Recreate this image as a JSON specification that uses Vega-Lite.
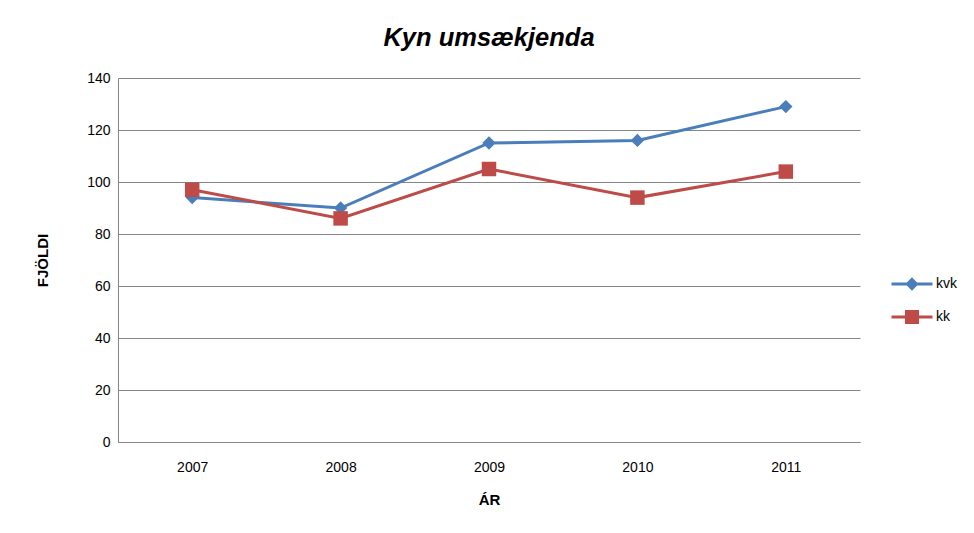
{
  "$schema": "https://vega.github.io/schema/vega-lite/v6.json",
  "width": 742,
  "height": 364,
  "autosize": {"type": "none"},
  "padding": {"left": 118, "top": 78, "right": 114, "bottom": 91},
  "background": "white",
  "title": {
    "text": "Kyn umsækjenda",
    "font": "Liberation Sans",
    "fontSize": 25.5,
    "fontWeight": "bold",
    "fontStyle": "italic",
    "color": "#000000",
    "anchor": "middle",
    "frame": "group",
    "offset": 20
  },
  "config": {
    "view": {"stroke": null},
    "font": "Liberation Sans",
    "axis": {
      "labelFont": "Liberation Sans",
      "labelFontSize": 14,
      "labelColor": "#000000",
      "titleFont": "Liberation Sans",
      "titleFontSize": 15,
      "titleFontWeight": "bold",
      "titleColor": "#000000",
      "domainColor": "#868686",
      "gridColor": "#868686",
      "ticks": false
    },
    "legend": {"labelFont": "Liberation Sans", "labelFontSize": 14, "labelColor": "#000000"}
  },
  "data": {
    "values": [
      {"year": "2007", "series": "kvk", "value": 94},
      {"year": "2008", "series": "kvk", "value": 90},
      {"year": "2009", "series": "kvk", "value": 115},
      {"year": "2010", "series": "kvk", "value": 116},
      {"year": "2011", "series": "kvk", "value": 129},
      {"year": "2007", "series": "kk", "value": 97},
      {"year": "2008", "series": "kk", "value": 86},
      {"year": "2009", "series": "kk", "value": 105},
      {"year": "2010", "series": "kk", "value": 94},
      {"year": "2011", "series": "kk", "value": 104}
    ]
  },
  "encoding": {
    "x": {
      "field": "year",
      "type": "ordinal",
      "scale": {"type": "point", "padding": 0.5},
      "axis": {"title": "ÁR", "labelAngle": 0, "labelPadding": 18, "titlePadding": 18, "grid": false, "domain": true}
    },
    "y": {
      "field": "value",
      "type": "quantitative",
      "scale": {"domain": [0, 140], "nice": false},
      "axis": {"title": "FJÖLDI", "values": [0, 20, 40, 60, 80, 100, 120, 140], "labelPadding": 8, "titlePadding": 36, "grid": true, "domain": true}
    },
    "color": {
      "field": "series",
      "type": "nominal",
      "scale": {"domain": ["kvk", "kk"], "range": ["#4a7ebb", "#be4b48"]},
      "legend": {
        "title": null,
        "orient": "none",
        "legendX": 772,
        "legendY": 184,
        "rowPadding": -9,
        "symbolSize": 1681,
        "symbolStrokeWidth": 3,
        "symbolType": "M-1,0H1",
        "labelOffset": 2,
        "encode": {
          "symbols": {
            "update": {
              "shape": {"signal": "datum.value === 'kvk' ? 'M-1,0H1M0,-0.22L0.22,0L0,0.22L-0.22,0Z' : 'M-1,0H1M-0.27,-0.27H0.27V0.27H-0.27Z'"},
              "strokeWidth": {"value": 3}
            }
          }
        }
      }
    }
  },
  "layer": [
    {
      "mark": {"type": "line", "strokeWidth": 3}
    },
    {
      "transform": [{"filter": "datum.series === 'kvk'"}],
      "mark": {"type": "point", "shape": "diamond", "size": 180, "filled": true, "opacity": 1}
    },
    {
      "transform": [{"filter": "datum.series === 'kk'"}],
      "mark": {"type": "point", "shape": "square", "size": 210, "filled": true, "opacity": 1}
    }
  ]
}
